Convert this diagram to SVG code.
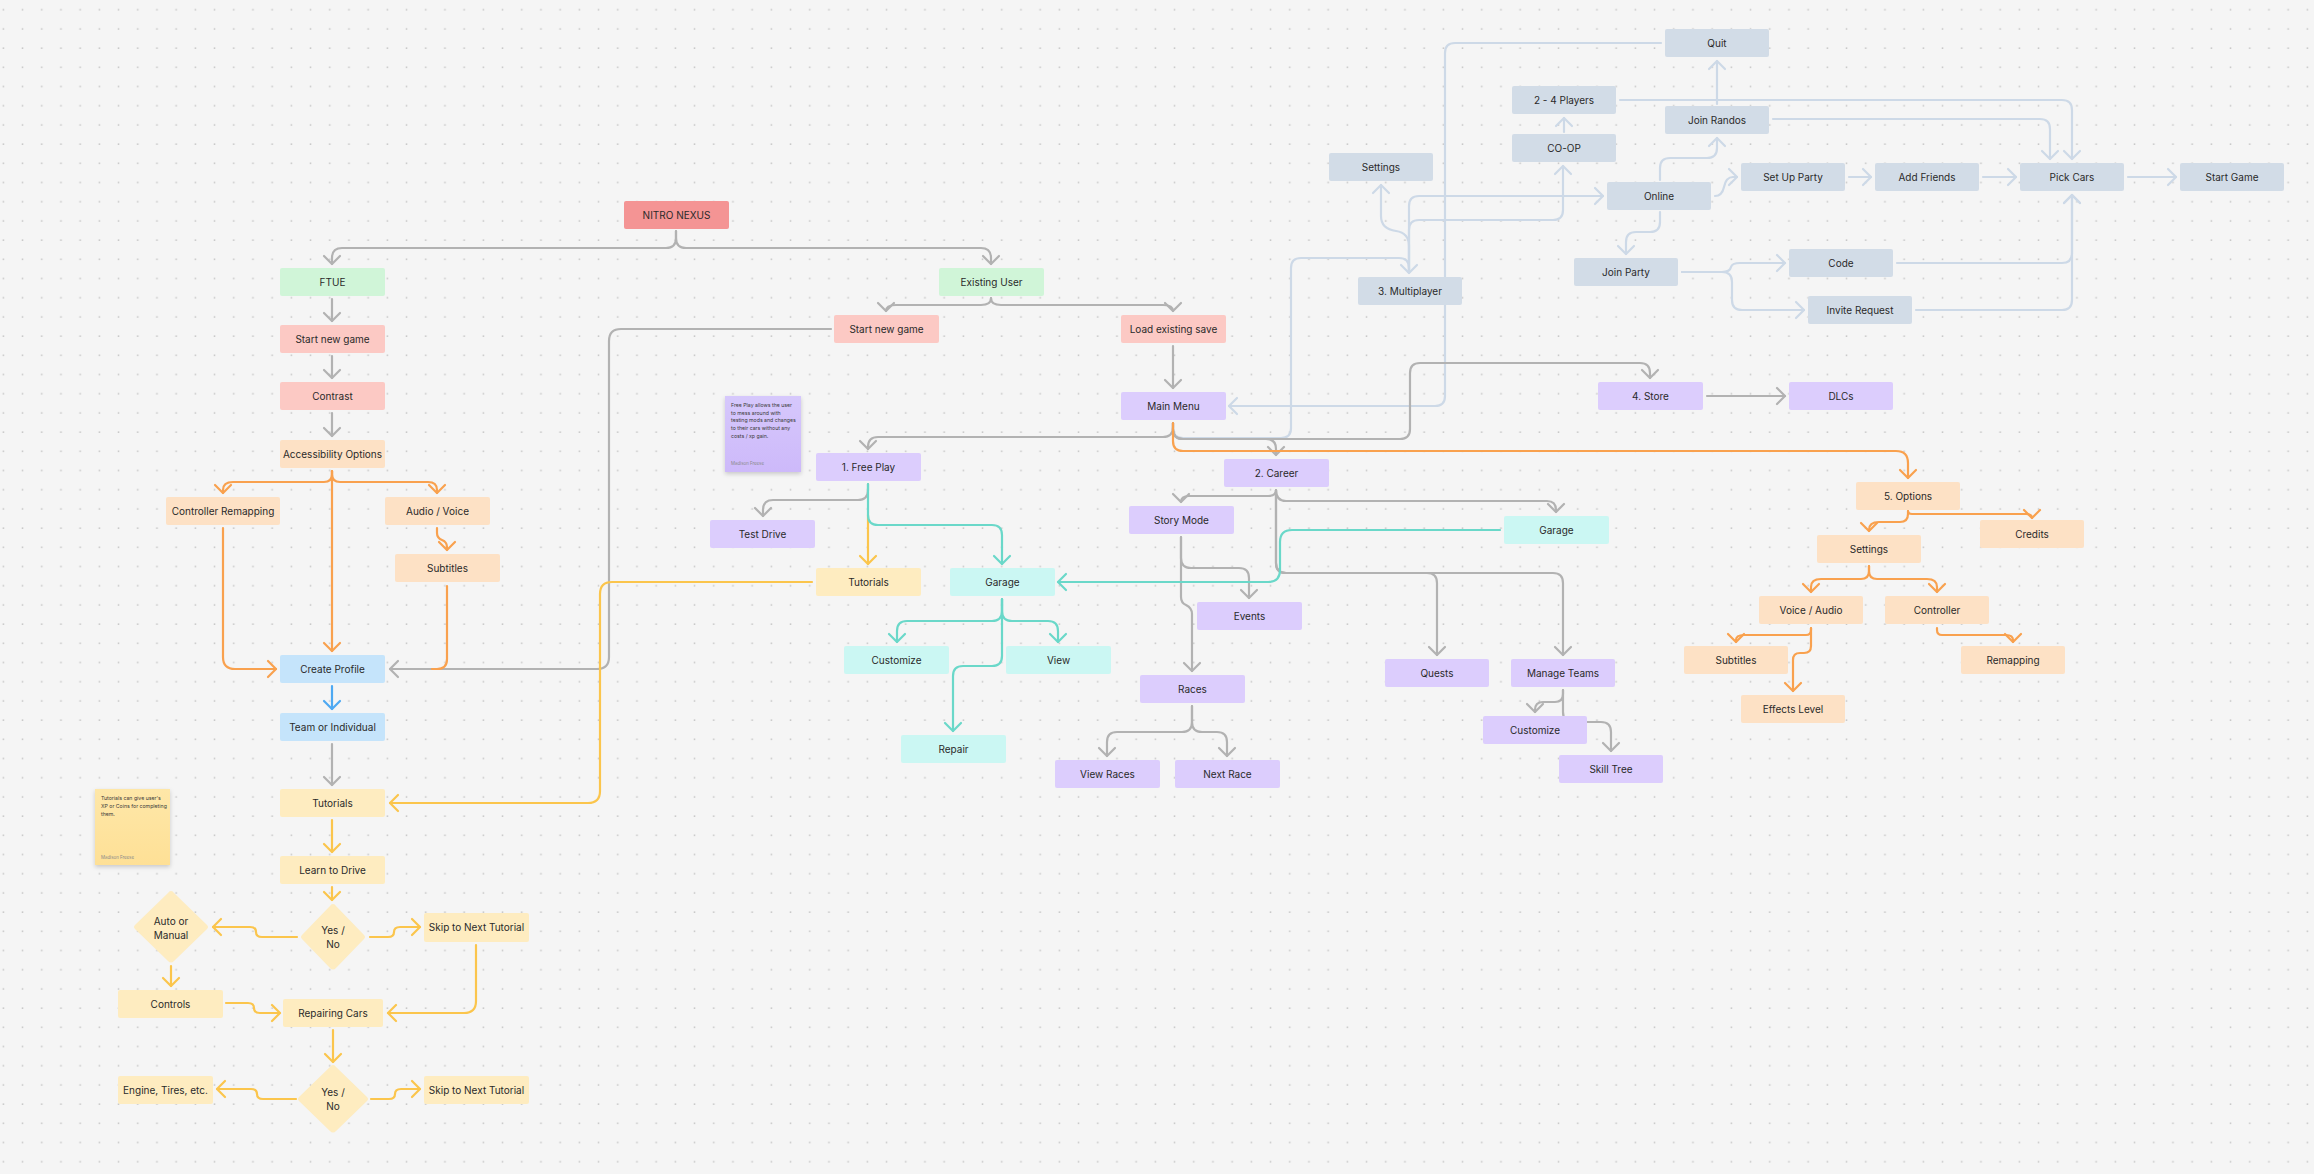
<svg xmlns="http://www.w3.org/2000/svg" width="2314" height="1174" viewBox="0 0 2314 1174">
<style>
text{font-family:Inter,"Noto Sans","Liberation Sans",sans-serif;font-size:10px;fill:#2a2a2a;text-anchor:middle}
.nt text{font-size:5.2px;text-anchor:start;fill:#3a3a3a}
.nt text.au{fill:#8a8a8a;font-size:4.4px}
rect.n,path.n{stroke:none}
.red{fill:#f49494}.green{fill:#d0f5d8}.pink{fill:#fcc9c4}.peach{fill:#fde1c5}.blue{fill:#c5e4fb}.yellow{fill:#feecc0}.purple{fill:#dccdfd}.teal{fill:#cbf7f3}.slate{fill:#d2dce7}
#connectors path{fill:none;stroke-width:2.2;stroke-linecap:round;stroke-linejoin:round}
.cg{stroke:#b2b2b2}.co{stroke:#f9a14e}.cy{stroke:#fbc54c}.ct{stroke:#6ad8c9}.cl{stroke:#cdd9e7}.cb{stroke:#4ea9f2}
marker path{fill:none;stroke-width:2.2;stroke-linecap:round;stroke-linejoin:round}
</style>
<defs>
<pattern id="dots" patternUnits="userSpaceOnUse" width="19.2" height="19.2"><rect x="2.6" y="9" width="1.5" height="1.5" fill="#c4c4c4"/></pattern>
<marker id="ag" viewBox="-10 -10 20 20" refX="0" refY="0" markerWidth="20" markerHeight="20" markerUnits="userSpaceOnUse" orient="auto"><path d="M-8,-8 L0,0 L-8,8" stroke="#b2b2b2"/></marker>
<marker id="ao" viewBox="-10 -10 20 20" refX="0" refY="0" markerWidth="20" markerHeight="20" markerUnits="userSpaceOnUse" orient="auto"><path d="M-8,-8 L0,0 L-8,8" stroke="#f9a14e"/></marker>
<marker id="ay" viewBox="-10 -10 20 20" refX="0" refY="0" markerWidth="20" markerHeight="20" markerUnits="userSpaceOnUse" orient="auto"><path d="M-8,-8 L0,0 L-8,8" stroke="#fbc54c"/></marker>
<marker id="at" viewBox="-10 -10 20 20" refX="0" refY="0" markerWidth="20" markerHeight="20" markerUnits="userSpaceOnUse" orient="auto"><path d="M-8,-8 L0,0 L-8,8" stroke="#6ad8c9"/></marker>
<marker id="al" viewBox="-10 -10 20 20" refX="0" refY="0" markerWidth="20" markerHeight="20" markerUnits="userSpaceOnUse" orient="auto"><path d="M-8,-8 L0,0 L-8,8" stroke="#cdd9e7"/></marker>
<marker id="ab" viewBox="-10 -10 20 20" refX="0" refY="0" markerWidth="20" markerHeight="20" markerUnits="userSpaceOnUse" orient="auto"><path d="M-8,-8 L0,0 L-8,8" stroke="#4ea9f2"/></marker>
<linearGradient id="gp" x1="0" y1="0" x2="0" y2="1"><stop offset="0" stop-color="#d6c8fc"/><stop offset="1" stop-color="#cdb9fa"/></linearGradient>
<linearGradient id="gy" x1="0" y1="0" x2="0" y2="1"><stop offset="0" stop-color="#fee7a8"/><stop offset="1" stop-color="#fee096"/></linearGradient>
<filter id="sh" x="-20%" y="-20%" width="140%" height="150%"><feDropShadow dx="0" dy="2" stdDeviation="2" flood-color="#000" flood-opacity="0.18"/></filter>
</defs>
<rect width="2314" height="1174" fill="#f5f5f5"/>
<rect width="2314" height="1174" fill="url(#dots)"/>

<g id="connectors">
<!-- light slate (multiplayer) -->
<path class="cl" marker-end="url(#al)" d="M1661,43 H1455 Q1445,43 1445,53 V396 Q1445,406 1435,406 H1229"/>
<path class="cl" marker-end="url(#al)" d="M1173,423 V428 Q1173,438 1183,438 H1281 Q1291,438 1291,428 V268 Q1291,258 1301,258 H1399 Q1409,258 1409,268 V273"/>
<path class="cl" marker-end="url(#al)" d="M1409,273 V246 Q1409,233 1396,231 Q1381,229 1381,216 V185"/>
<path class="cl" marker-end="url(#al)" d="M1409,273 V206 Q1409,196 1419,196 H1603"/>
<path class="cl" marker-end="url(#al)" d="M1409,273 V230 Q1409,220 1419,220 H1553 Q1563,220 1563,210 V166"/>
<path class="cl" marker-end="url(#al)" d="M1564,132 V118"/>
<path class="cl" marker-end="url(#al)" d="M1620,100 H2062 Q2072,100 2072,110 V159"/>
<path class="cl" marker-end="url(#al)" d="M1773,119 H2040 Q2050,119 2050,129 V159"/>
<path class="cl" marker-end="url(#al)" d="M1717,104 V61"/>
<path class="cl" marker-end="url(#al)" d="M1660,180 V168 Q1660,158 1670,158 H1707 Q1717,158 1717,148 V138"/>
<path class="cl" marker-end="url(#al)" d="M1715,196 Q1722,196 1724,187 Q1726,177 1733,177 H1737"/>
<path class="cl" marker-end="url(#al)" d="M1849,177 H1871"/>
<path class="cl" marker-end="url(#al)" d="M1983,177 H2016"/>
<path class="cl" marker-end="url(#al)" d="M2128,177 H2176"/>
<path class="cl" marker-end="url(#al)" d="M1660,212 V222 Q1660,232 1650,232 H1636 Q1626,232 1626,242 V254"/>
<path class="cl" marker-end="url(#al)" d="M1682,272 H1722 Q1730,272 1731,267 Q1732,263 1740,263 H1785"/>
<path class="cl" marker-end="url(#al)" d="M1682,272 H1722 Q1732,272 1732,282 V300 Q1732,310 1742,310 H1804"/>
<path class="cl" marker-end="url(#al)" d="M1897,263 H2062 Q2072,263 2072,253 V195"/>
<path class="cl" marker-end="url(#al)" d="M1916,310 H2062 Q2072,310 2072,300 V195"/>
<!-- gray -->
<path class="cg" marker-end="url(#ag)" d="M676,231 V238 Q676,248 666,248 H342 Q332,248 332,258 V264"/>
<path class="cg" marker-end="url(#ag)" d="M676,231 V238 Q676,248 686,248 H981 Q991,248 991,258 V264"/>
<path class="cg" marker-end="url(#ag)" d="M332,299 V321"/>
<path class="cg" marker-end="url(#ag)" d="M332,356 V378"/>
<path class="cg" marker-end="url(#ag)" d="M332,413 V436"/>
<path class="cg" marker-end="url(#ag)" d="M332,744 V785"/>
<path class="cg" marker-end="url(#ag)" d="M991,298 Q991,305 981,305 H896 Q886,305 886,311"/>
<path class="cg" marker-end="url(#ag)" d="M991,298 Q991,305 1001,305 H1163 Q1173,305 1173,311"/>
<path class="cg" marker-end="url(#ag)" d="M1173,346 V388"/>
<path class="cg" marker-end="url(#ag)" d="M831,329 H621 Q609,329 609,341 V657 Q609,669 597,669 H390"/>
<path class="cg" marker-end="url(#ag)" d="M1173,423 V427 Q1173,437 1163,437 H878 Q868,437 868,447 V449"/>
<path class="cg" marker-end="url(#ag)" d="M1173,423 V429 Q1173,439 1183,439 H1266 Q1276,439 1276,449 V455"/>
<path class="cg" marker-end="url(#ag)" d="M1173,423 V429 Q1173,439 1183,439 H1400 Q1410,439 1410,429 V373 Q1410,363 1420,363 H1640 Q1650,363 1650,373 V378"/>
<path class="cg" marker-end="url(#ag)" d="M868,484 V490 Q868,500 858,500 H773 Q763,500 763,510 V516"/>
<path class="cg" marker-end="url(#ag)" d="M1276,490 Q1276,496 1268,496 H1189 Q1181,496 1181,502"/>
<path class="cg" marker-end="url(#ag)" d="M1276,490 Q1276,501 1286,501 H1547 Q1556,501 1556,510 V512"/>
<path class="cg" marker-end="url(#ag)" d="M1276,490 V563 Q1276,573 1286,573 H1427 Q1437,573 1437,583 V655"/>
<path class="cg" marker-end="url(#ag)" d="M1276,490 V563 Q1276,573 1286,573 H1553 Q1563,573 1563,583 V655"/>
<path class="cg" marker-end="url(#ag)" d="M1181,537 V558 Q1181,568 1191,568 H1239 Q1249,568 1249,578 V598"/>
<path class="cg" marker-end="url(#ag)" d="M1181,537 V597 Q1181,603 1186,605 Q1192,608 1192,614 V671"/>
<path class="cg" marker-end="url(#ag)" d="M1192,706 V722 Q1192,732 1182,732 H1117 Q1107,732 1107,742 V756"/>
<path class="cg" marker-end="url(#ag)" d="M1192,706 V722 Q1192,732 1202,732 H1217 Q1227,732 1227,742 V756"/>
<path class="cg" marker-end="url(#ag)" d="M1563,690 V694 Q1563,702 1555,702 H1543 Q1535,702 1535,710 V712"/>
<path class="cg" marker-end="url(#ag)" d="M1563,690 V712 Q1563,722 1573,722 H1601 Q1611,722 1611,732 V751"/>
<path class="cg" marker-end="url(#ag)" d="M1707,396 H1785"/>
<!-- orange -->
<path class="co" marker-end="url(#ao)" d="M332,471 V474 Q332,482 324,482 H233 Q223,482 223,490 V493"/>
<path class="co" marker-end="url(#ao)" d="M332,471 V474 Q332,482 340,482 H428 Q437,482 437,490 V493"/>
<path class="co" marker-end="url(#ao)" d="M332,471 V651"/>
<path class="co" marker-end="url(#ao)" d="M223,528 V657 Q223,669 235,669 H276"/>
<path class="co" marker-end="url(#ao)" d="M437,528 V533 Q437,538 442,540 Q447,542 447,547 V550"/>
<path class="co" d="M447,586 V659 Q447,669 437,669 H432"/>
<path class="co" marker-end="url(#ao)" d="M1173,423 V441 Q1173,451 1183,451 H1896 Q1908,451 1908,463 V478"/>
<path class="co" marker-end="url(#ao)" d="M1908,511 Q1908,514 1912,514 H2026 Q2032,514 2032,518"/>
<path class="co" marker-end="url(#ao)" d="M1908,511 V514 Q1908,522 1900,522 H1879 Q1869,522 1869,530 V531"/>
<path class="co" marker-end="url(#ao)" d="M1869,566 V571 Q1869,579 1861,579 H1821 Q1811,579 1811,587 V592"/>
<path class="co" marker-end="url(#ao)" d="M1869,566 V571 Q1869,579 1877,579 H1927 Q1937,579 1937,587 V592"/>
<path class="co" marker-end="url(#ao)" d="M1811,628 V630 Q1811,635 1806,635 H1744 Q1736,635 1736,640 V642"/>
<path class="co" marker-end="url(#ao)" d="M1811,628 V646 Q1811,653 1804,653 H1800 Q1793,653 1793,660 V691"/>
<path class="co" marker-end="url(#ao)" d="M1937,628 V630 Q1937,635 1942,635 H2006 Q2013,635 2013,640 V642"/>
<!-- yellow -->
<path class="cy" marker-end="url(#ay)" d="M868,515 V564"/>
<path class="cy" marker-end="url(#ay)" d="M812,582 H612 Q600,582 600,594 V791 Q600,803 588,803 H390"/>
<path class="cy" marker-end="url(#ay)" d="M332,820 V852"/>
<path class="cy" marker-end="url(#ay)" d="M332,887 V900"/>
<path class="cy" marker-end="url(#ay)" d="M297,937 H262 Q256,937 256,932 Q256,927 250,927 H213"/>
<path class="cy" marker-end="url(#ay)" d="M370,937 H388 Q394,937 394,932 Q394,927 400,927 H420"/>
<path class="cy" marker-end="url(#ay)" d="M171,966 V986"/>
<path class="cy" marker-end="url(#ay)" d="M226,1003 H248 Q254,1003 254,1008 Q254,1013 260,1013 H280"/>
<path class="cy" marker-end="url(#ay)" d="M476,945 V1001 Q476,1013 464,1013 H388"/>
<path class="cy" marker-end="url(#ay)" d="M333,1030 V1062"/>
<path class="cy" marker-end="url(#ay)" d="M296,1099 H263 Q257,1099 257,1094 Q257,1089 251,1089 H217"/>
<path class="cy" marker-end="url(#ay)" d="M371,1099 H389 Q395,1099 395,1094 Q395,1089 401,1089 H420"/>
<!-- teal -->
<path class="ct" marker-end="url(#at)" d="M868,484 V515 Q868,525 878,525 H992 Q1002,525 1002,535 V564"/>
<path class="ct" marker-end="url(#at)" d="M1500,530 H1292 Q1280,530 1280,542 V570 Q1280,582 1268,582 H1058"/>
<path class="ct" marker-end="url(#at)" d="M1002,599 V611 Q1002,621 992,621 H907 Q897,621 897,631 V642"/>
<path class="ct" marker-end="url(#at)" d="M1002,599 V611 Q1002,621 1012,621 H1048 Q1058,621 1058,631 V642"/>
<path class="ct" marker-end="url(#at)" d="M1002,599 V656 Q1002,666 992,666 H963 Q953,666 953,676 V731"/>
<!-- blue -->
<path class="cb" marker-end="url(#ab)" d="M332,686 V709"/>
</g>

<!-- sticky notes -->
<g id="note-freeplay" class="nt">
<rect x="725" y="396" width="76" height="76" fill="url(#gp)" filter="url(#sh)"/>
<text x="731" y="407">Free Play allows the user</text>
<text x="731" y="414.7">to mess around with</text>
<text x="731" y="422.4">testing mods and changes</text>
<text x="731" y="430.1">to their cars without any</text>
<text x="731" y="437.8">costs / xp gain.</text>
<text class="au" x="731" y="465">Madison Freese</text>
</g>
<g id="note-tutorials" class="nt">
<rect x="95" y="789" width="75" height="76" fill="url(#gy)" filter="url(#sh)"/>
<text x="101" y="800">Tutorials can give user's</text>
<text x="101" y="808">XP or Coins for completing</text>
<text x="101" y="816">them.</text>
<text class="au" x="101" y="859">Madison Freese</text>
</g>

<!-- left column -->
<g id="n-nitro"><rect class="n red" x="624" y="201" width="105" height="28" rx="2"/><text x="676.5" y="218.6">NITRO NEXUS</text></g>
<g id="n-ftue"><rect class="n green" x="280" y="268" width="105" height="28" rx="2"/><text x="332.5" y="285.6">FTUE</text></g>
<g id="n-start1"><rect class="n pink" x="280" y="325" width="105" height="28" rx="2"/><text x="332.5" y="342.6">Start new game</text></g>
<g id="n-contrast"><rect class="n pink" x="280" y="382" width="105" height="28" rx="2"/><text x="332.5" y="399.6">Contrast</text></g>
<g id="n-access"><rect class="n peach" x="280" y="440" width="105" height="28" rx="2"/><text x="332.5" y="457.6">Accessibility Options</text></g>
<g id="n-ctrlremap"><rect class="n peach" x="166" y="497" width="114" height="28" rx="2"/><text x="223" y="514.6">Controller Remapping</text></g>
<g id="n-audio"><rect class="n peach" x="385" y="497" width="105" height="28" rx="2"/><text x="437.5" y="514.6">Audio / Voice</text></g>
<g id="n-subtitles1"><rect class="n peach" x="395" y="554" width="105" height="28" rx="2"/><text x="447.5" y="571.6">Subtitles</text></g>
<g id="n-profile"><rect class="n blue" x="280" y="655" width="105" height="28" rx="2"/><text x="332.5" y="672.6">Create Profile</text></g>
<g id="n-team"><rect class="n blue" x="280" y="713" width="105" height="28" rx="2"/><text x="332.5" y="730.6">Team or Individual</text></g>
<g id="n-tutorials1"><rect class="n yellow" x="280" y="789" width="105" height="28" rx="2"/><text x="332.5" y="806.6">Tutorials</text></g>
<g id="n-learn"><rect class="n yellow" x="280" y="856" width="105" height="28" rx="2"/><text x="332.5" y="873.6">Learn to Drive</text></g>
<g id="n-yesno1"><path class="n yellow" d="M333,904 Q335,904 336,906 L364,935 Q366,937 364,939 L336,968 Q333,971 330,968 L302,939 Q300,937 302,935 L330,906 Q331,904 333,904 Z"/><text x="333" y="933.6">Yes /</text><text x="333" y="947.6">No</text></g>
<g id="n-auto"><path class="n yellow" d="M171,891 Q173,891 174,893 L207,925 Q209,927 207,929 L174,961 Q171,964 168,961 L135,929 Q133,927 135,925 L168,893 Q169,891 171,891 Z"/><text x="171" y="924.6">Auto or</text><text x="171" y="938.6">Manual</text></g>
<g id="n-skip1"><rect class="n yellow" x="424" y="913" width="105" height="29" rx="2"/><text x="476.5" y="931.1">Skip to Next Tutorial</text></g>
<g id="n-controls"><rect class="n yellow" x="118" y="990" width="105" height="28" rx="2"/><text x="170.5" y="1007.6">Controls</text></g>
<g id="n-repairing"><rect class="n yellow" x="283" y="999" width="100" height="28" rx="2"/><text x="333" y="1016.6">Repairing Cars</text></g>
<g id="n-yesno2"><path class="n yellow" d="M333,1065 Q335,1065 336,1067 L367,1097 Q369,1099 367,1101 L336,1131 Q333,1134 330,1131 L299,1101 Q297,1099 299,1097 L330,1067 Q331,1065 333,1065 Z"/><text x="333" y="1095.6">Yes /</text><text x="333" y="1109.6">No</text></g>
<g id="n-engine"><rect class="n yellow" x="118" y="1076" width="95" height="28" rx="2"/><text x="165.5" y="1093.6">Engine, Tires, etc.</text></g>
<g id="n-skip2"><rect class="n yellow" x="424" y="1076" width="105" height="28" rx="2"/><text x="476.5" y="1093.6">Skip to Next Tutorial</text></g>

<!-- middle -->
<g id="n-existing"><rect class="n green" x="939" y="268" width="105" height="28" rx="2"/><text x="991.5" y="285.6">Existing User</text></g>
<g id="n-start2"><rect class="n pink" x="834" y="315" width="105" height="28" rx="2"/><text x="886.5" y="332.6">Start new game</text></g>
<g id="n-load"><rect class="n pink" x="1121" y="315" width="105" height="28" rx="2"/><text x="1173.5" y="332.6">Load existing save</text></g>
<g id="n-mainmenu"><rect class="n purple" x="1121" y="392" width="105" height="28" rx="2"/><text x="1173.5" y="409.6">Main Menu</text></g>
<g id="n-freeplay"><rect class="n purple" x="816" y="453" width="105" height="28" rx="2"/><text x="868.5" y="470.6">1. Free Play</text></g>
<g id="n-career"><rect class="n purple" x="1224" y="459" width="105" height="28" rx="2"/><text x="1276.5" y="476.6">2. Career</text></g>
<g id="n-testdrive"><rect class="n purple" x="710" y="520" width="105" height="28" rx="2"/><text x="762.5" y="537.6">Test Drive</text></g>
<g id="n-tutorials2"><rect class="n yellow" x="816" y="568" width="105" height="28" rx="2"/><text x="868.5" y="585.6">Tutorials</text></g>
<g id="n-garage1"><rect class="n teal" x="950" y="568" width="105" height="28" rx="2"/><text x="1002.5" y="585.6">Garage</text></g>
<g id="n-customize1"><rect class="n teal" x="844" y="646" width="105" height="28" rx="2"/><text x="896.5" y="663.6">Customize</text></g>
<g id="n-view"><rect class="n teal" x="1006" y="646" width="105" height="28" rx="2"/><text x="1058.5" y="663.6">View</text></g>
<g id="n-repair"><rect class="n teal" x="901" y="735" width="105" height="28" rx="2"/><text x="953.5" y="752.6">Repair</text></g>
<g id="n-story"><rect class="n purple" x="1129" y="506" width="105" height="28" rx="2"/><text x="1181.5" y="523.6">Story Mode</text></g>
<g id="n-events"><rect class="n purple" x="1197" y="602" width="105" height="28" rx="2"/><text x="1249.5" y="619.6">Events</text></g>
<g id="n-races"><rect class="n purple" x="1140" y="675" width="105" height="28" rx="2"/><text x="1192.5" y="692.6">Races</text></g>
<g id="n-viewraces"><rect class="n purple" x="1055" y="760" width="105" height="28" rx="2"/><text x="1107.5" y="777.6">View Races</text></g>
<g id="n-nextrace"><rect class="n purple" x="1175" y="760" width="105" height="28" rx="2"/><text x="1227.5" y="777.6">Next Race</text></g>

<!-- right: multiplayer -->
<g id="n-quit"><rect class="n slate" x="1665" y="29" width="104" height="28" rx="2"/><text x="1717" y="46.6">Quit</text></g>
<g id="n-players"><rect class="n slate" x="1512" y="86" width="104" height="28" rx="2"/><text x="1564" y="103.6">2 - 4 Players</text></g>
<g id="n-randos"><rect class="n slate" x="1665" y="106" width="104" height="28" rx="2"/><text x="1717" y="123.6">Join Randos</text></g>
<g id="n-coop"><rect class="n slate" x="1512" y="134" width="104" height="28" rx="2"/><text x="1564" y="151.6">CO-OP</text></g>
<g id="n-settingsmp"><rect class="n slate" x="1329" y="153" width="104" height="28" rx="2"/><text x="1381" y="170.6">Settings</text></g>
<g id="n-online"><rect class="n slate" x="1607" y="182" width="104" height="28" rx="2"/><text x="1659" y="199.6">Online</text></g>
<g id="n-setup"><rect class="n slate" x="1741" y="163" width="104" height="28" rx="2"/><text x="1793" y="180.6">Set Up Party</text></g>
<g id="n-addfriends"><rect class="n slate" x="1875" y="163" width="104" height="28" rx="2"/><text x="1927" y="180.6">Add Friends</text></g>
<g id="n-pickcars"><rect class="n slate" x="2020" y="163" width="104" height="28" rx="2"/><text x="2072" y="180.6">Pick Cars</text></g>
<g id="n-startgame"><rect class="n slate" x="2180" y="163" width="104" height="28" rx="2"/><text x="2232" y="180.6">Start Game</text></g>
<g id="n-multiplayer"><rect class="n slate" x="1358" y="277" width="104" height="28" rx="2"/><text x="1410" y="294.6">3. Multiplayer</text></g>
<g id="n-joinparty"><rect class="n slate" x="1574" y="258" width="104" height="28" rx="2"/><text x="1626" y="275.6">Join Party</text></g>
<g id="n-code"><rect class="n slate" x="1789" y="249" width="104" height="28" rx="2"/><text x="1841" y="266.6">Code</text></g>
<g id="n-invite"><rect class="n slate" x="1808" y="296" width="104" height="28" rx="2"/><text x="1860" y="313.6">Invite Request</text></g>

<!-- right: store / career / options -->
<g id="n-store"><rect class="n purple" x="1598" y="382" width="105" height="28" rx="2"/><text x="1650.5" y="399.6">4. Store</text></g>
<g id="n-dlcs"><rect class="n purple" x="1789" y="382" width="104" height="28" rx="2"/><text x="1841" y="399.6">DLCs</text></g>
<g id="n-garage2"><rect class="n teal" x="1504" y="516" width="105" height="28" rx="2"/><text x="1556.5" y="533.6">Garage</text></g>
<g id="n-quests"><rect class="n purple" x="1385" y="659" width="104" height="28" rx="2"/><text x="1437" y="676.6">Quests</text></g>
<g id="n-manage"><rect class="n purple" x="1511" y="659" width="104" height="28" rx="2"/><text x="1563" y="676.6">Manage Teams</text></g>
<g id="n-customize2"><rect class="n purple" x="1483" y="716" width="104" height="28" rx="2"/><text x="1535" y="733.6">Customize</text></g>
<g id="n-skilltree"><rect class="n purple" x="1559" y="755" width="104" height="28" rx="2"/><text x="1611" y="772.6">Skill Tree</text></g>
<g id="n-options"><rect class="n peach" x="1856" y="482" width="104" height="28" rx="2"/><text x="1908" y="499.6">5. Options</text></g>
<g id="n-credits"><rect class="n peach" x="1980" y="520" width="104" height="28" rx="2"/><text x="2032" y="537.6">Credits</text></g>
<g id="n-settingsopt"><rect class="n peach" x="1817" y="535" width="104" height="28" rx="2"/><text x="1869" y="552.6">Settings</text></g>
<g id="n-voice"><rect class="n peach" x="1759" y="596" width="104" height="28" rx="2"/><text x="1811" y="613.6">Voice / Audio</text></g>
<g id="n-controller"><rect class="n peach" x="1885" y="596" width="104" height="28" rx="2"/><text x="1937" y="613.6">Controller</text></g>
<g id="n-subtitles2"><rect class="n peach" x="1684" y="646" width="104" height="28" rx="2"/><text x="1736" y="663.6">Subtitles</text></g>
<g id="n-remapping"><rect class="n peach" x="1961" y="646" width="104" height="28" rx="2"/><text x="2013" y="663.6">Remapping</text></g>
<g id="n-effects"><rect class="n peach" x="1741" y="695" width="104" height="28" rx="2"/><text x="1793" y="712.6">Effects Level</text></g>
</svg>
